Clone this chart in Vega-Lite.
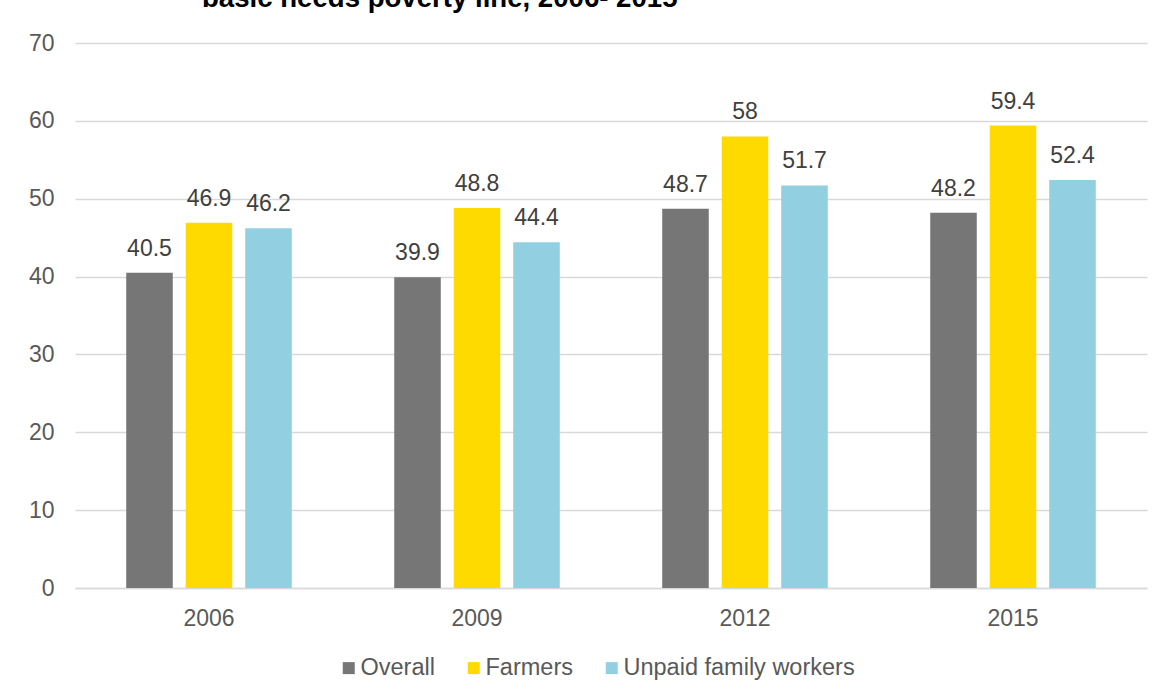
{
  "$schema": "https://vega.github.io/schema/vega-lite/v6.json",
  "width": 1072,
  "height": 545,
  "autosize": {"type": "none"},
  "padding": {"left": 75, "top": 43, "right": 13, "bottom": 107},
  "background": "white",
  "title": {
    "text": "basic needs poverty line, 2006- 2015",
    "anchor": "start",
    "frame": "group",
    "dx": 127,
    "dy": 10,
    "baseline": "alphabetic",
    "offset": 7,
    "font": "Liberation Sans",
    "fontSize": 27.6,
    "fontWeight": "bold",
    "color": "#000000"
  },
  "data": {
    "values": [
      {"year": "2006", "group": "Overall", "value": 40.5},
      {"year": "2006", "group": "Farmers", "value": 46.9},
      {"year": "2006", "group": "Unpaid family workers", "value": 46.2},
      {"year": "2009", "group": "Overall", "value": 39.9},
      {"year": "2009", "group": "Farmers", "value": 48.8},
      {"year": "2009", "group": "Unpaid family workers", "value": 44.4},
      {"year": "2012", "group": "Overall", "value": 48.7},
      {"year": "2012", "group": "Farmers", "value": 58},
      {"year": "2012", "group": "Unpaid family workers", "value": 51.7},
      {"year": "2015", "group": "Overall", "value": 48.2},
      {"year": "2015", "group": "Farmers", "value": 59.4},
      {"year": "2015", "group": "Unpaid family workers", "value": 52.4}
    ]
  },
  "encoding": {
    "x": {
      "field": "year",
      "type": "nominal",
      "scale": {"paddingInner": 0, "paddingOuter": 0},
      "axis": {
        "title": null,
        "labelAngle": 0,
        "ticks": false,
        "labelPadding": 19,
        "labelFont": "Liberation Sans",
        "labelFontSize": 23,
        "labelColor": "#595959",
        "domainColor": "#d9d9d9",
        "domainWidth": 1.5,
        "grid": false
      }
    },
    "xOffset": {
      "field": "group",
      "type": "nominal",
      "scale": {"domain": ["Overall", "Farmers", "Unpaid family workers"], "paddingInner": 0.218, "paddingOuter": 0.861}
    },
    "y": {
      "field": "value",
      "type": "quantitative",
      "scale": {"domain": [0, 70], "nice": false},
      "axis": {
        "title": null,
        "values": [0, 10, 20, 30, 40, 50, 60, 70],
        "ticks": false,
        "domain": false,
        "labelPadding": 21,
        "labelFont": "Liberation Sans",
        "labelFontSize": 23,
        "labelColor": "#595959",
        "gridColor": "#d9d9d9",
        "gridWidth": 1.3
      }
    }
  },
  "layer": [
    {
      "mark": {"type": "bar"},
      "encoding": {
        "color": {
          "field": "group",
          "type": "nominal",
          "scale": {
            "domain": ["Overall", "Farmers", "Unpaid family workers"],
            "range": ["#767676", "#FFDA00", "#92CFE0"]
          },
          "legend": {
            "title": null,
            "orient": "none",
            "direction": "horizontal",
            "legendX": 262,
            "legendY": 613,
            "symbolType": "square",
            "symbolSize": 144,
            "symbolStrokeWidth": 0,
            "symbolOpacity": 1,
            "labelFont": "Liberation Sans",
            "labelFontSize": 23.5,
            "labelColor": "#595959",
            "labelOffset": 0,
            "labelLimit": 400,
            "columnPadding": 27,
            "padding": 0
          }
        }
      }
    },
    {
      "mark": {
        "type": "text",
        "baseline": "alphabetic",
        "dy": -17,
        "font": "Liberation Sans",
        "fontSize": 23,
        "color": "#404040"
      },
      "encoding": {
        "text": {"field": "value", "type": "quantitative"}
      }
    }
  ],
  "config": {
    "view": {"stroke": null}
  }
}
